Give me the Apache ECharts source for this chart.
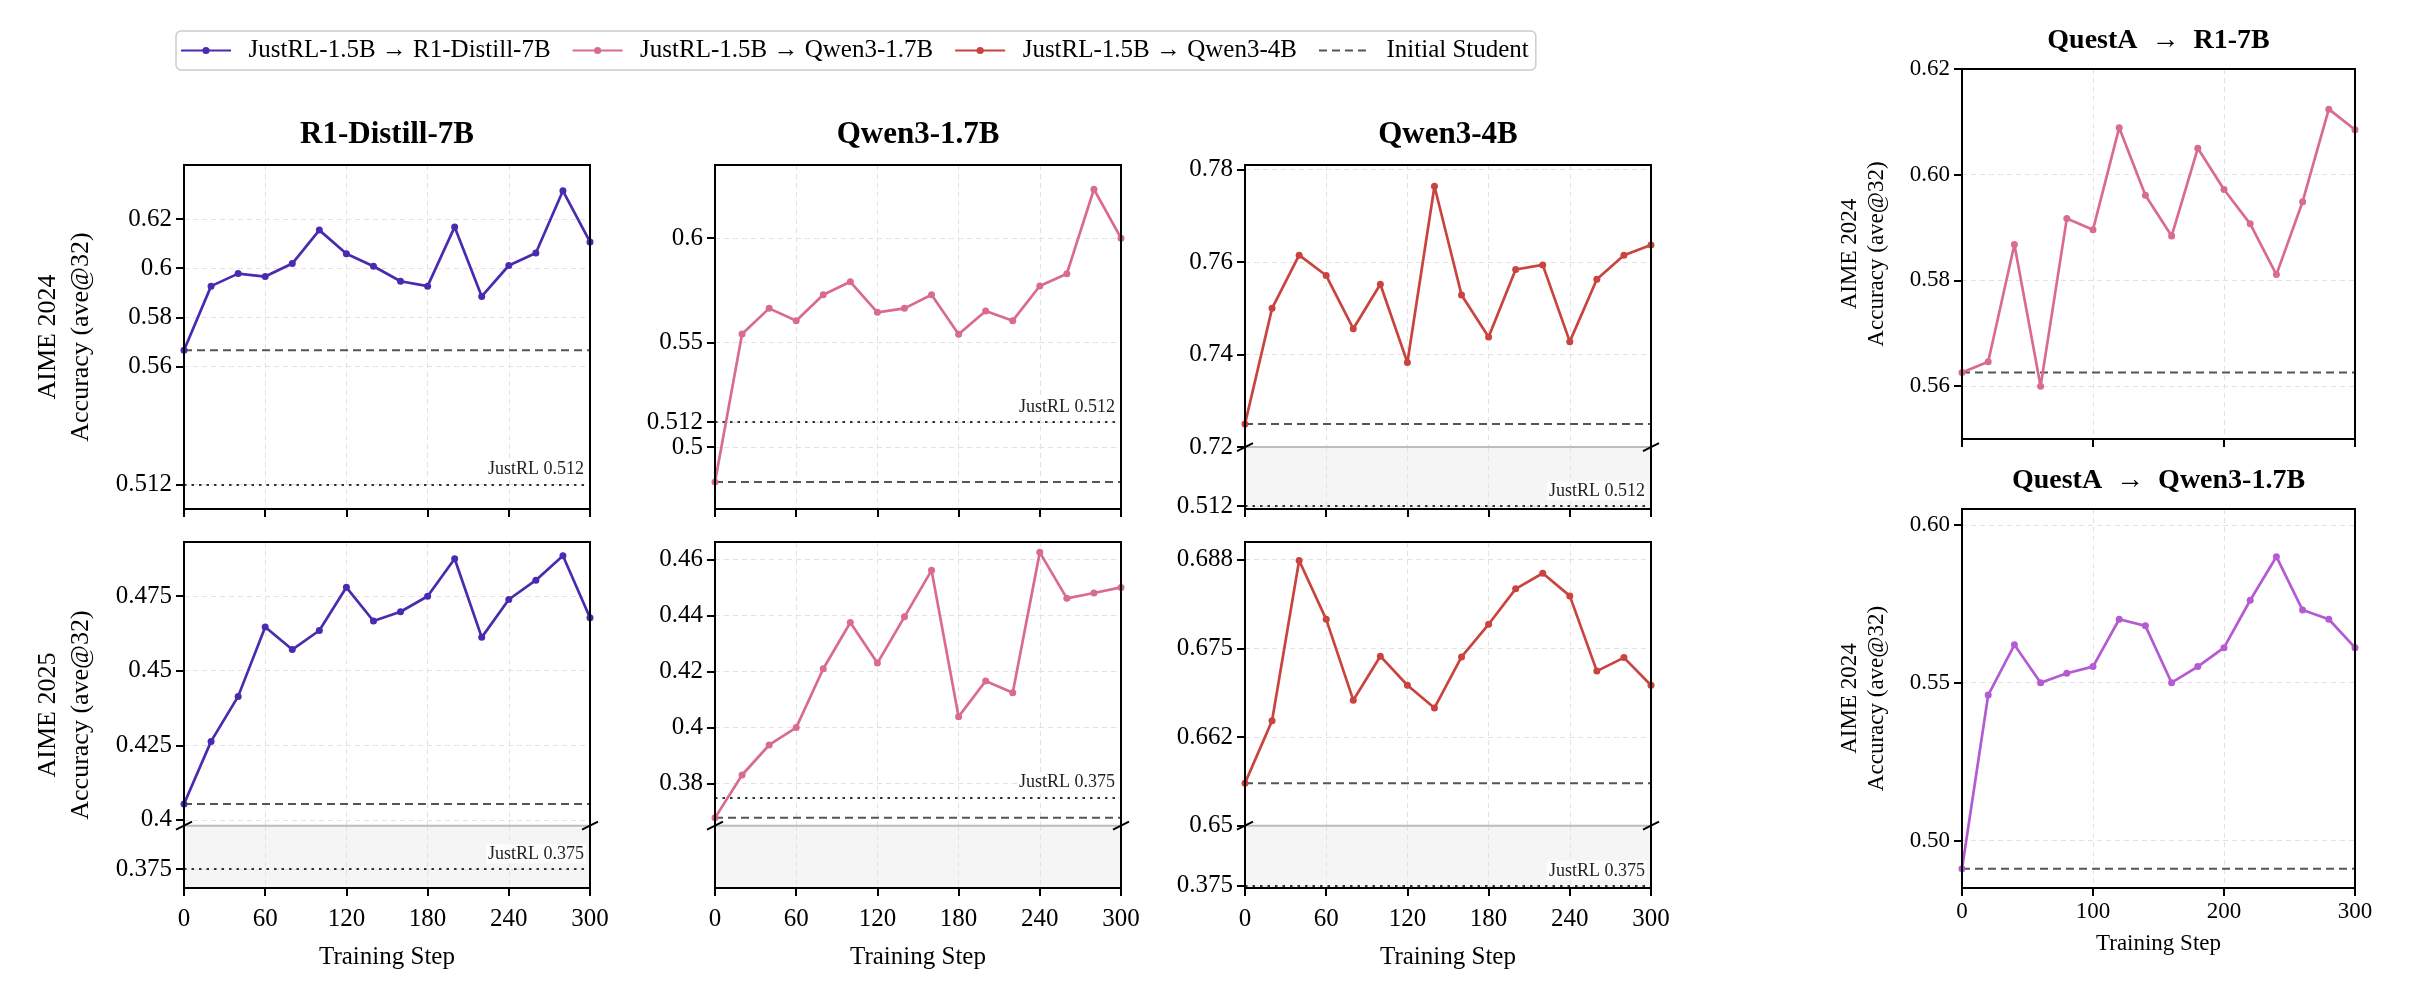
<!DOCTYPE html>
<html><head><meta charset="utf-8">
<script src="https://cdn.jsdelivr.net/npm/echarts@6/dist/echarts.min.js"></script>
<style>html,body{margin:0;padding:0;background:#fff}#c{width:2415px;height:985px}</style>
</head><body><div id="c"></div>
<script>
// ---------------- data ----------------
const steps = [0,20,40,60,80,100,120,140,160,180,200,220,240,260,280,300];
const r1distillAime24 = [0.5666,0.5927,0.5978,0.5966,0.6019,0.6155,0.6059,0.6008,0.5947,0.5927,0.6168,0.5885,0.6011,0.6062,0.6315,0.6107];
const qwen17Aime24   = [0.4833,0.5541,0.5664,0.5605,0.5729,0.5791,0.5645,0.5664,0.5729,0.5540,0.5651,0.5605,0.5771,0.5830,0.6234,0.6000];
const qwen4Aime24    = [0.7250,0.7500,0.7615,0.7571,0.7456,0.7552,0.7383,0.7764,0.7529,0.7438,0.7584,0.7594,0.7428,0.7563,0.7615,0.7637];
const r1distillAime25 = [0.4053,0.4263,0.4414,0.4647,0.4571,0.4635,0.4780,0.4667,0.4698,0.4750,0.4876,0.4612,0.4739,0.4804,0.4886,0.4678];
const qwen17Aime25   = [0.3678,0.3831,0.3938,0.4000,0.4210,0.4375,0.4230,0.4395,0.4561,0.4039,0.4166,0.4124,0.4625,0.4461,0.4480,0.4500];
const qwen4Aime25    = [0.6560,0.6648,0.6874,0.6791,0.6677,0.6739,0.6698,0.6666,0.6738,0.6784,0.6834,0.6856,0.6824,0.6718,0.6737,0.6698];
const questaR1Aime24 = [0.5626,0.5646,0.5868,0.5600,0.5917,0.5896,0.6089,0.5961,0.5884,0.6050,0.5972,0.5907,0.5811,0.5949,0.6124,0.6085];
const questaQwenAime24 = [0.4911,0.5461,0.5620,0.5500,0.5530,0.5551,0.5701,0.5680,0.5500,0.5551,0.5611,0.5761,0.5899,0.5730,0.5701,0.5611];

const initialStudent = { r1d24:0.5666, q17_24:0.4833, q4_24:0.7250, r1d25:0.4053, q17_25:0.3678, q4_25:0.6560, qaR1:0.5626, qaQwen:0.4911 };
const justrlAime24 = 0.512;
const justrlAime25 = 0.375;

const legendNames = ['JustRL-1.5B \u2192 R1-Distill-7B','JustRL-1.5B \u2192 Qwen3-1.7B','JustRL-1.5B \u2192 Qwen3-4B','Initial Student'];
const panelTitles = ['R1-Distill-7B','Qwen3-1.7B','Qwen3-4B','QuestA  \u2192  R1-7B','QuestA  \u2192  Qwen3-1.7B'];

const ticksP1 = [0.512,0.56,0.58,0.6,0.62];          const labelsP1 = ['0.512','0.56','0.58','0.6','0.62'];
const ticksP2 = [0.5,0.512,0.55,0.6];                const labelsP2 = ['0.5','0.512','0.55','0.6'];
const ticksP3 = [0.72,0.74,0.76,0.78];               const labelsP3 = ['0.72','0.74','0.76','0.78'];
const ticksP3low = [0.512];                          const labelsP3low = ['0.512'];
const ticksP4 = [0.4,0.425,0.45,0.475];              const labelsP4 = ['0.4','0.425','0.45','0.475'];
const ticksP4low = [0.375];                          const labelsP4low = ['0.375'];
const ticksP5 = [0.38,0.4,0.42,0.44,0.46];           const labelsP5 = ['0.38','0.4','0.42','0.44','0.46'];
const ticksP6 = [0.65,0.6625,0.675,0.6875];          const labelsP6 = ['0.65','0.662','0.675','0.688'];
const ticksP6low = [0.375];                          const labelsP6low = ['0.375'];
const ticksR1 = [0.56,0.58,0.60,0.62];               const labelsR1 = ['0.56','0.58','0.60','0.62'];
const ticksR2 = [0.50,0.55,0.60];                    const labelsR2 = ['0.50','0.55','0.60'];

// ---------------- styles / layout ----------------
const FONT = '"Liberation Serif","Times New Roman",Times,serif';
const COL = { purple:'#4a2bb0', pink:'#d96b93', red:'#c9433f', orchid:'#b45ad2', init:'#555555', ref:'#333333' };
const BREAK = 0.82;

const panels = [
  { title:panelTitles[0], name:legendNames[0], color:COL.purple, values:r1distillAime24, init:initialStudent.r1d24, ref:justrlAime24,
    box:{left:184, top:165, width:406, height:344}, up:{min:0.502, max:0.642, ticks:ticksP1, labels:labelsP1}, refIn:'up',
    xInt:60, xLabels:false, yName:'AIME 2024', fs:25 },
  { title:panelTitles[1], name:legendNames[1], color:COL.pink, values:qwen17Aime24, init:initialStudent.q17_24, ref:justrlAime24,
    box:{left:715, top:165, width:406, height:344}, up:{min:0.4704, max:0.635, ticks:ticksP2, labels:labelsP2}, refIn:'up',
    xInt:60, xLabels:false, fs:25 },
  { title:panelTitles[2], name:legendNames[2], color:COL.red, values:qwen4Aime24, init:initialStudent.q4_24, ref:justrlAime24,
    box:{left:1245, top:165, width:406, height:344}, up:{min:0.72, max:0.781, ticks:ticksP3, labels:labelsP3},
    low:{min:0.502, max:0.72, ticks:ticksP3low, labels:labelsP3low}, refIn:'low', xInt:60, xLabels:false, fs:25 },
  { name:legendNames[0], color:COL.purple, values:r1distillAime25, init:initialStudent.r1d25, ref:justrlAime25,
    box:{left:184, top:542, width:406, height:346}, up:{min:0.398, max:0.4932, ticks:ticksP4, labels:labelsP4},
    low:{min:0.365, max:0.398, ticks:ticksP4low, labels:labelsP4low}, refIn:'low', xInt:60, xLabels:true, yName:'AIME 2025', fs:25 },
  { name:legendNames[1], color:COL.pink, values:qwen17Aime25, init:initialStudent.q17_25, ref:justrlAime25,
    box:{left:715, top:542, width:406, height:346}, up:{min:0.365, max:0.4662, ticks:ticksP5, labels:labelsP5},
    low:{min:0.30, max:0.365, ticks:[], labels:[]}, refIn:'up', xInt:60, xLabels:true, fs:25 },
  { name:legendNames[2], color:COL.red, values:qwen4Aime25, init:initialStudent.q4_25, ref:justrlAime25,
    box:{left:1245, top:542, width:406, height:346}, up:{min:0.65, max:0.69, ticks:ticksP6, labels:labelsP6},
    low:{min:0.365, max:0.65, ticks:ticksP6low, labels:labelsP6low}, refIn:'low', xInt:60, xLabels:true, fs:25 },
  { title:panelTitles[3], name:'QuestA \u2192 R1-7B', color:COL.pink, values:questaR1Aime24, init:initialStudent.qaR1,
    box:{left:1962, top:69, width:393, height:370}, up:{min:0.55, max:0.62, ticks:ticksR1, labels:labelsR1},
    xInt:100, xLabels:false, yName:'AIME 2024', fs:23, right:true },
  { title:panelTitles[4], name:'QuestA \u2192 Qwen3-1.7B', color:COL.orchid, values:questaQwenAime24, init:initialStudent.qaQwen,
    box:{left:1962, top:509, width:393, height:379}, up:{min:0.485, max:0.605, ticks:ticksR2, labels:labelsR2},
    xInt:100, xLabels:true, yName:'AIME 2024', fs:23, right:true }
];

const grids = [], xAxes = [], yAxes = [], series = [], graphics = [], titles = [];

function fmtFor(ticks, labels){
  return v => { for (let i=0;i<ticks.length;i++) if (Math.abs(ticks[i]-v) < 1e-9) return labels[i]; return ''; };
}
function addGrid(rect, bg){
  grids.push({ left:rect.left, top:rect.top, width:rect.width, height:rect.height,
    show: !!bg, backgroundColor: bg || 'transparent', borderWidth:0, containLabel:false, outerBoundsMode:'none' });
  return grids.length - 1;
}
const gridSplit = { show:true, lineStyle:{ color:'#e2e2e2', width:1, type:[5,4] } };

panels.forEach((p) => {
  const b = p.box;
  const hasLow = !!p.low;
  const upH = hasLow ? b.height*BREAK : b.height;
  const gUp = addGrid({left:b.left, top:b.top, width:b.width, height:upH});
  let gLow = null;
  if (hasLow) gLow = addGrid({left:b.left, top:b.top+upH, width:b.width, height:b.height-upH}, '#f5f5f5');

  const xBase = { type:'value', min:0, max:300, interval:p.xInt, axisLine:{show:false}, splitLine:gridSplit };
  const xLabelCfg = { margin: p.right?12:19, fontSize:p.fs, fontFamily:FONT, color:'#000' };
  const xNameCfg = { nameLocation:'middle', nameGap: p.right?44:57, nameTextStyle:{ fontSize: p.right?23:25, fontFamily:FONT, color:'#000' } };
  xAxes.push(Object.assign({}, xBase, xNameCfg, { gridIndex:gUp,
    axisTick: { show: !hasLow, length:8, lineStyle:{color:'#000', width:2} },
    axisLabel: Object.assign({ show: !hasLow && p.xLabels }, xLabelCfg),
    name: (!hasLow && p.xLabels) ? 'Training Step' : '' }));
  const xiUp = xAxes.length-1;
  let xiLow = null;
  if (hasLow) {
    xAxes.push(Object.assign({}, xBase, xNameCfg, { gridIndex:gLow,
      axisTick: { show:true, length:8, lineStyle:{color:'#000', width:2} },
      axisLabel: Object.assign({ show: p.xLabels }, xLabelCfg),
      name: p.xLabels ? 'Training Step' : '' }));
    xiLow = xAxes.length-1;
  }
  function yAx(gi, seg){
    const f = fmtFor(seg.ticks, seg.labels);
    return { type:'value', gridIndex:gi, min:seg.min, max:seg.max, scale:true,
      axisLine:{show:false},
      axisTick:{ show:true, length:8, customValues:seg.ticks, lineStyle:{color:'#000', width:2} },
      axisLabel:{ show:true, customValues:seg.ticks, formatter:f, margin:12, fontSize:p.fs, fontFamily:FONT, color:'#000' },
      splitLine: gridSplit };
  }
  yAxes.push(yAx(gUp, p.up)); const yiUp = yAxes.length-1;
  let yiLow = null;
  if (hasLow) { yAxes.push(yAx(gLow, p.low)); yiLow = yAxes.length-1; }

  // main line
  series.push({ type:'line', name:p.name, xAxisIndex:xiUp, yAxisIndex:yiUp,
    data: steps.map((s,i)=>[s, p.values[i]]), symbol:'circle', symbolSize:7, showSymbol:true,
    lineStyle:{ color:p.color, width:2.7 }, itemStyle:{ color:p.color }, z:5 });
  // initial student
  series.push({ type:'line', name:legendNames[3], xAxisIndex:xiUp, yAxisIndex:yiUp,
    data:[[0,p.init],[300,p.init]], symbol:'none', lineStyle:{ color:COL.init, width:2, type:[8,5] },
    itemStyle:{ color:COL.init }, z:3 });
  // JustRL reference
  if (p.ref !== undefined) {
    const inLow = p.refIn === 'low';
    series.push({ type:'line', name:'JustRL', xAxisIndex: inLow?xiLow:xiUp, yAxisIndex: inLow?yiLow:yiUp,
      data:[[0,p.ref],[300,p.ref]], symbol:'none', lineStyle:{ opacity:0 }, z:2,
      markLine:{ silent:true, symbol:'none', animation:false,
        data:[[{coord:[0,p.ref]},{coord:[300,p.ref]}]],
        lineStyle:{ color:COL.ref, width:2, type:[2.5,5] },
        label:{ show:true, position:'insideEndTop', distance:[4,6], formatter:'JustRL ' + p.ref,
          fontSize:18, fontFamily:FONT, color:'#222', backgroundColor:'rgba(255,255,255,0.75)', padding:[1,2,0,2] } } });
  }

  // frame, break
  graphics.push({ type:'rect', z:100, silent:true, shape:{ x:b.left, y:b.top, width:b.width, height:b.height },
    style:{ fill:'none', stroke:'#000', lineWidth:2 } });
  if (hasLow) {
    const yb = b.top + upH;
    graphics.push({ type:'line', z:90, silent:true, shape:{ x1:b.left, y1:yb, x2:b.left+b.width, y2:yb }, style:{ stroke:'#bdbdbd', lineWidth:2 } });
    [b.left, b.left+b.width].forEach(xx => graphics.push({ type:'line', z:101, silent:true,
      shape:{ x1:xx-8, y1:yb+4, x2:xx+8, y2:yb-4 }, style:{ stroke:'#000', lineWidth:2 } }));
  }
  // titles
  if (p.title) {
    titles.push({ text:p.title, left: b.left + b.width/2, top: p.right ? b.top-42 : b.top-46, textAlign:'center', padding:0,
      textStyle:{ fontFamily:FONT, fontWeight:'bold', fontSize: p.right?28:31, color:'#000' } });
  }
  // y names
  if (p.yName) {
    graphics.push({ type:'text', z:100, silent:true, x: p.right ? 1863 : 65, y: b.top + b.height/2, rotation: Math.PI/2,
      style:{ text: p.yName + '\nAccuracy (ave@32)', fontFamily:FONT, fontSize: p.right?23:26, lineHeight: p.right?27:33,
        fill:'#000', align:'center', verticalAlign:'middle', textAlign:'center', textVerticalAlign:'middle' } });
  }
});

const chart = echarts.init(document.getElementById('c'), null, { renderer:'canvas' });
chart.setOption({
  backgroundColor:'#ffffff',
  animation:false,
  title: titles,
  legend: { data: legendNames.map((n,i) => i === 3 ? { name:n, itemStyle:{ opacity:0 } } : n),
    left:176, top:31, orient:'horizontal', padding:[7,7,7,4],
    itemWidth:50, itemHeight:9, itemGap:21, borderColor:'#cccccc', borderWidth:1.5, borderRadius:5,
    formatter: n => '  ' + n,
    backgroundColor:'#ffffff', textStyle:{ fontFamily:FONT, fontSize:25, color:'#000' } },
  grid: grids, xAxis: xAxes, yAxis: yAxes, series: series, graphic: graphics
});
</script></body></html>
